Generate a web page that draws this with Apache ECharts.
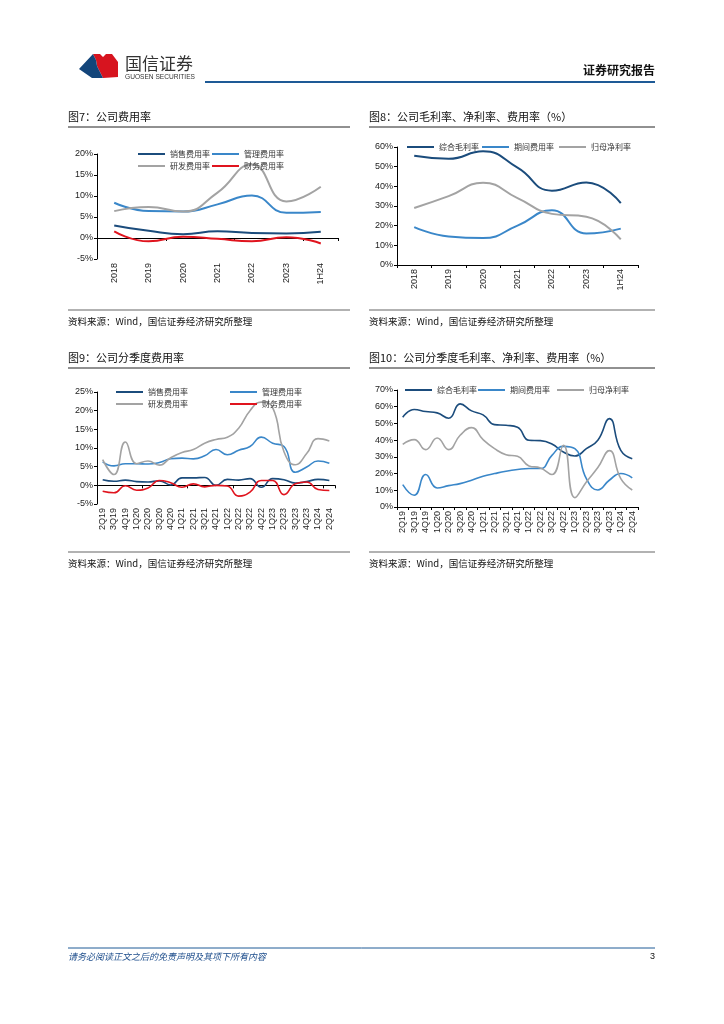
<!DOCTYPE html>
<html><head><meta charset="utf-8">
<script src="https://cdn.jsdelivr.net/npm/echarts@6/dist/echarts.min.js"></script>
<style>html,body{margin:0;padding:0;background:#fff}#c{width:724px;height:1024px}</style>
</head><body><div id="c"></div>
<script>
const years = ['2018','2019','2020','2021','2022','2023','1H24'];
const quarters = ['2Q19','3Q19','4Q19','1Q20','2Q20','3Q20','4Q20','1Q21','2Q21','3Q21','4Q21','1Q22','2Q22','3Q22','4Q22','1Q23','2Q23','3Q23','4Q23','1Q24','2Q24'];

// 图7 公司费用率 (%)
const y_sales = [3.0, 1.7, 0.9, 1.6, 1.2, 1.1, 1.5];
const y_admin = [8.4, 6.4, 6.3, 8.0, 10.1, 6.0, 6.2];
const y_rd = [6.4, 7.4, 6.3, 10.8, 17.5, 8.7, 12.2];
const y_fin = [1.6, -0.8, 0.3, -0.2, -0.8, 0.2, -1.3];

// 图8 毛利率/净利率/费用率 (%)
const y_gross = [55.5, 54.0, 57.8, 49.5, 37.8, 42.0, 31.5];
const y_period = [19.3, 14.5, 13.7, 20.0, 27.8, 16.0, 18.5];
const y_net = [29.0, 35.0, 41.8, 34.0, 26.0, 24.5, 13.0];

// 图9 分季度费用率 (%)
const q_sales = [1.5, 1.1, 1.4, 1.0, 0.9, 1.2, 0.1, 2.0, 2.0, 2.1, 0.0, 1.6, 1.4, 1.8, -0.5, 1.8, 1.5, 0.6, 1.0, 1.6, 1.3];
const q_admin = [6.3, 5.2, 5.8, 5.8, 5.7, 6.1, 7.1, 7.3, 7.1, 7.9, 9.6, 8.2, 9.4, 10.4, 12.9, 11.3, 10.4, 3.5, 4.9, 6.5, 5.9];
const q_rd = [6.9, 2.9, 11.6, 5.8, 6.5, 5.4, 7.4, 8.8, 9.6, 11.3, 12.3, 12.9, 15.3, 20.0, 22.3, 20.8, 9.0, 5.5, 8.5, 12.5, 11.9];
const q_fin = [-1.6, -2.0, -0.1, -1.3, -0.7, 1.3, 0.7, -0.5, 0.4, -0.4, 0.0, -0.2, -2.9, -1.8, 1.3, 1.3, -2.5, 0.4, 0.9, -1.1, -1.4];

// 图10 分季度毛利率/净利率/费用率 (%)
const q_gross = [53.7, 58.3, 57.1, 56.3, 53.1, 61.7, 57.5, 55.1, 49.3, 48.9, 47.7, 39.9, 39.7, 37.7, 32.9, 30.5, 34.9, 39.9, 52.9, 33.9, 28.9];
const q_period = [13.4, 7.0, 19.4, 11.4, 12.8, 14.0, 16.0, 18.4, 20.0, 21.4, 22.4, 23.0, 23.0, 30.9, 36.3, 34.9, 17.0, 10.2, 16.0, 20.0, 17.4];
const q_net = [37.5, 40.3, 34.3, 41.3, 34.3, 42.9, 47.5, 40.3, 34.9, 31.3, 30.3, 24.6, 23.4, 19.4, 36.9, 5.6, 15.0, 23.6, 33.7, 17.0, 10.2];

const NAVY = '#1B4C7C', BLUE = '#3A87C9', GRAY = '#A3A3A3', RED = '#E0141E';
const FONT = '"Liberation Sans", Arial, "Noto Sans CJK SC", sans-serif';
const CJK = '"Noto Sans CJK SC", "Liberation Sans", sans-serif';

const chart = echarts.init(document.getElementById('c'), null, {renderer: 'canvas'});

function yAxis(grid, min, max, interval) {
  return {type: 'value', gridIndex: grid, min: min, max: max, interval: interval,
    axisLine: {show: true, lineStyle: {color: '#000', width: 1}},
    axisTick: {show: true, length: 3, lineStyle: {color: '#000'}},
    splitLine: {show: false},
    axisLabel: {formatter: '{value}%', fontSize: 9, color: '#222', fontFamily: FONT, margin: 4}};
}
function xLabelAxis(grid, data, onZero) {
  return {type: 'category', gridIndex: grid, data: data, boundaryGap: true,
    axisLine: {show: !onZero ? true : false, onZero: false, lineStyle: {color: '#000'}},
    axisTick: {show: !onZero, length: 3, lineStyle: {color: '#000'}},
    axisLabel: {rotate: 90, fontSize: 9, color: '#222', fontFamily: FONT, interval: 0, margin: 4}};
}
function xZeroAxis(grid, data) {
  return {type: 'category', gridIndex: grid, data: data, boundaryGap: true, position: 'bottom',
    axisLine: {show: true, onZero: true, lineStyle: {color: '#000'}},
    axisTick: {show: true, length: 3, lineStyle: {color: '#000'}},
    axisLabel: {show: false}};
}
function line(name, data, color, xi, yi, w) {
  return {name: name, type: 'line', data: data, xAxisIndex: xi, yAxisIndex: yi, smooth: true,
    showSymbol: false, symbol: 'none', lineStyle: {color: color, width: w}, itemStyle: {color: color}};
}
function leg(name, x, y) {
  return {data: [name], left: x, top: y - 5, padding: 0, icon: 'rect', itemWidth: 27, itemHeight: 2,
    itemGap: 0, selectedMode: false,
    textStyle: {fontSize: 8, color: '#333', fontFamily: CJK, padding: [0, 0, 0, 0]}};
}
function hline(x1, x2, y, color, w) {
  return {type: 'line', shape: {x1: x1, y1: y, x2: x2, y2: y}, style: {stroke: color, lineWidth: w}, silent: true};
}
function txt(x, y, s, size, opts) {
  return Object.assign({type: 'text', x: x, y: y, silent: true,
    style: {text: s, fontSize: size, fill: '#111', fontFamily: CJK, textVerticalAlign: 'middle'}}, opts || {});
}

const option = {
  backgroundColor: '#fff',
  animation: false,
  grid: [
    {left: 97, top: 154, width: 241, height: 105},
    {left: 397, top: 147, width: 241, height: 118},
    {left: 97, top: 392, width: 238, height: 112},
    {left: 397, top: 390, width: 241, height: 117}
  ],
  xAxis: [
    xLabelAxis(0, years, true), xZeroAxis(0, years),
    xLabelAxis(1, years, false),
    xLabelAxis(2, quarters, true), xZeroAxis(2, quarters),
    xLabelAxis(3, quarters, false)
  ],
  yAxis: [yAxis(0, -5, 20, 5), yAxis(1, 0, 60, 10), yAxis(2, -5, 25, 5), yAxis(3, 0, 70, 10)],
  legend: [
    leg('销售费用率', 138, 155), leg('管理费用率', 212, 155), leg('研发费用率', 138, 167), leg('财务费用率', 212, 167),
    leg('综合毛利率', 407, 148), leg('期间费用率', 482, 148), leg('归母净利率', 559, 148),
    leg('销售费用率 ', 116, 393), leg('管理费用率 ', 230, 393), leg('研发费用率 ', 116, 405), leg('财务费用率 ', 230, 405),
    leg('综合毛利率 ', 405, 391), leg('期间费用率 ', 478, 391), leg('归母净利率 ', 557, 391)
  ],
  series: [
    line('销售费用率', y_sales, NAVY, 0, 0, 2),
    line('管理费用率', y_admin, BLUE, 0, 0, 2),
    line('研发费用率', y_rd, GRAY, 0, 0, 2),
    line('财务费用率', y_fin, RED, 0, 0, 2),
    line('综合毛利率', y_gross, NAVY, 2, 1, 2),
    line('期间费用率', y_period, BLUE, 2, 1, 2),
    line('归母净利率', y_net, GRAY, 2, 1, 2),
    line('销售费用率 ', q_sales, NAVY, 3, 2, 1.6),
    line('管理费用率 ', q_admin, BLUE, 3, 2, 1.6),
    line('研发费用率 ', q_rd, GRAY, 3, 2, 1.6),
    line('财务费用率 ', q_fin, RED, 3, 2, 1.6),
    line('综合毛利率 ', q_gross, NAVY, 5, 3, 1.6),
    line('期间费用率 ', q_period, BLUE, 5, 3, 1.6),
    line('归母净利率 ', q_net, GRAY, 5, 3, 1.6)
  ],
  graphic: [
    // logo
    {type: 'polygon', silent: true, shape: {points: [[93,54],[100,54],[103,57],[106,54],[112,54],[118,62],[118,77],[103,78],[100,72],[97,66],[96,60]]}, style: {fill: '#D7141F'}},
    {type: 'polygon', silent: true, shape: {points: [[79,69],[93,54],[96,60],[97,66],[100,72],[103,78],[92,78]]}, style: {fill: '#13457A'}},
    txt(125, 64, '国信证券', 17, {style: {text: '国信证券', fontSize: 17, fill: '#333', fontFamily: CJK, textVerticalAlign: 'middle'}}),
    txt(125, 77, 'GUOSEN SECURITIES', 6.6, {style: {text: 'GUOSEN SECURITIES', fontSize: 6.6, fill: '#333', fontFamily: FONT, textVerticalAlign: 'middle'}}),
    hline(205, 655, 82, '#1E5A96', 2),
    txt(655, 70, '证券研究报告', 12, {style: {text: '证券研究报告', fontSize: 12, fontWeight: 'bold', fill: '#111', fontFamily: CJK, textAlign: 'right', textVerticalAlign: 'middle'}}),
    // chart titles
    txt(68, 117, '图7：公司费用率', 11),
    txt(369, 117, '图8：公司毛利率、净利率、费用率（%）', 11),
    txt(68, 358, '图9：公司分季度费用率', 11),
    txt(369, 358, '图10：公司分季度毛利率、净利率、费用率（%）', 11),
    hline(68, 350, 127, '#222', 1), hline(369, 655, 127, '#222', 1),
    hline(68, 350, 368, '#222', 1), hline(369, 655, 368, '#222', 1),
    hline(68, 350, 310, '#999', 1.5), hline(369, 655, 310, '#999', 1.5),
    hline(68, 350, 552, '#999', 1.5), hline(369, 655, 552, '#999', 1.5),
    txt(68, 321, '资料来源：Wind，国信证券经济研究所整理', 9.5),
    txt(369, 321, '资料来源：Wind，国信证券经济研究所整理', 9.5),
    txt(68, 563, '资料来源：Wind，国信证券经济研究所整理', 9.5),
    txt(369, 563, '资料来源：Wind，国信证券经济研究所整理', 9.5),
    // footer
    hline(68, 655, 948, '#1E5A96', 1),
    txt(68, 957, '请务必阅读正文之后的免责声明及其项下所有内容', 9, {style: {text: '请务必阅读正文之后的免责声明及其项下所有内容', fontSize: 9, fontStyle: 'italic', fill: '#1E4E8C', fontFamily: CJK, textVerticalAlign: 'middle'}}),
    txt(655, 957, '3', 9, {style: {text: '3', fontSize: 9, fill: '#111', fontFamily: FONT, textAlign: 'right', textVerticalAlign: 'middle'}})
  ]
};
chart.setOption(option);
</script>
</body></html>
